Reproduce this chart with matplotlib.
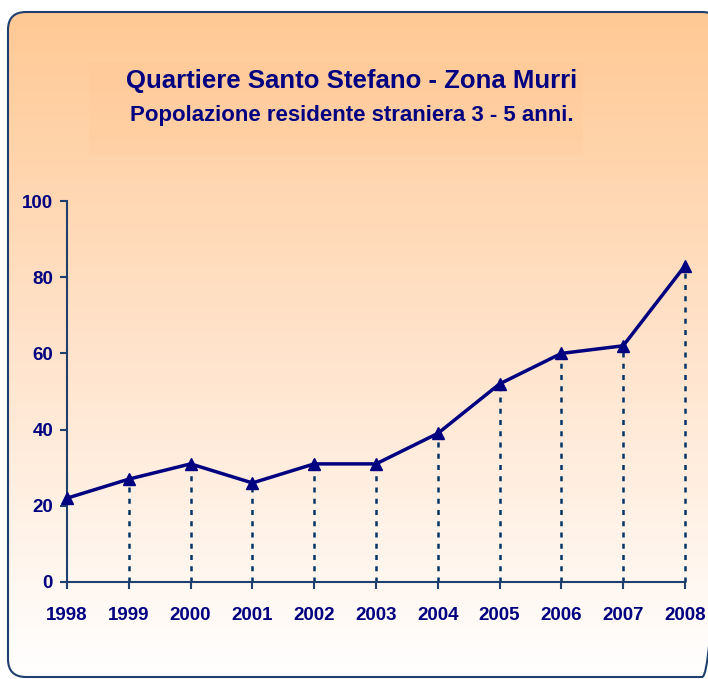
import numpy as np
import matplotlib
matplotlib.use('Agg')
import matplotlib.pyplot as plt
from matplotlib.patches import FancyBboxPatch, Rectangle
from matplotlib.colors import LinearSegmentedColormap

# dati: popolazione straniera 3-5 anni
anni = [1998, 1999, 2000, 2001, 2002, 2003, 2004, 2005, 2006, 2007, 2008]
residenti = [22, 27, 31, 26, 31, 31, 39, 52, 60, 62, 83]
yticks = [0, 20, 40, 60, 80, 100]

NAVY = '#000080'
ASSE = '#1F3F6F'

plt.rcParams['font.family'] = ['Liberation Sans', 'DejaVu Sans']
plt.rcParams['font.weight'] = 'bold'

fig = plt.figure(figsize=(7.08, 6.79), dpi=100)

# sfondo sfumato con bordo arrotondato
bg = fig.add_axes([0, 0, 1, 1])
bg.set_xlim(0, 708)
bg.set_ylim(679, 0)
bg.axis('off')
cmap = LinearSegmentedColormap.from_list('arancio', ['#FFC994', '#FFE3CB', '#FFFFFF'])
grad = np.linspace(0, 1, 256).reshape(-1, 1)
img = bg.imshow(grad, cmap=cmap, extent=[8, 720, 677, 12], aspect='auto', zorder=0)
bordo = FancyBboxPatch((8, 12), 712, 665, boxstyle='round,pad=0,rounding_size=18',
                       facecolor='none', edgecolor=ASSE, linewidth=1.5, zorder=2)
bg.add_patch(bordo)
img.set_clip_path(bordo)

# riquadro del titolo
bg.add_patch(Rectangle((89, 62), 494, 95, facecolor='#FFC08A', alpha=0.15,
                       edgecolor='none', zorder=1))
bg.text(352, 81, 'Quartiere Santo Stefano - Zona Murri', color=NAVY, fontsize=18.5,
        fontweight='bold', ha='center', va='center')
bg.text(352, 115, 'Popolazione residente straniera 3 - 5 anni.', color=NAVY, fontsize=16,
        fontweight='bold', ha='center', va='center')

ax = fig.add_axes([67 / 708, 1 - 582 / 679, (685 - 67) / 708, (582 - 201) / 679])
ax.patch.set_alpha(0)

ax.vlines(anni[1:], 0, residenti[1:], colors='#003366', linestyles=(0, (2, 2.5)),
          linewidth=1.8, clip_on=False)
ax.plot(anni, residenti, color=NAVY, linewidth=2.5, marker='^', markersize=8, clip_on=False, zorder=5)

ax.set_xlim(1998, 2008)
ax.set_ylim(0, 100)
ax.set_xticks(anni)
ax.set_yticks(yticks)
for s in ['top', 'right']:
    ax.spines[s].set_visible(False)
for s in ['left', 'bottom']:
    ax.spines[s].set_color(ASSE)
    ax.spines[s].set_linewidth(1.5)
ax.tick_params(colors=ASSE, labelcolor=NAVY, labelsize=13.5, length=5, width=1.5)
ax.tick_params(axis='x', pad=13)
ax.tick_params(axis='y', pad=5)
for lab in ax.get_xticklabels() + ax.get_yticklabels():
    lab.set_fontweight('bold')

fig.savefig('out.png', dpi=100)
